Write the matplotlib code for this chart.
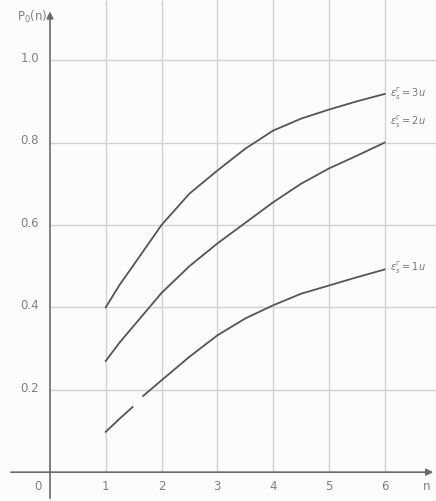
import numpy as np
import matplotlib
matplotlib.use('Agg')
import matplotlib.pyplot as plt

# data
n = [1, 1.25, 1.5, 2, 2.5, 3, 3.5, 4, 4.5, 5, 5.5, 6]
p_3u = [0.40, 0.455, 0.503, 0.60, 0.676, 0.732, 0.785, 0.829, 0.858, 0.88, 0.90, 0.918]
p_2u = [0.27, 0.315, 0.355, 0.435, 0.50, 0.555, 0.605, 0.655, 0.700, 0.737, 0.768, 0.80]
# the lowest curve has a small break near n=1.55
n_1u = [1, 1.25, 1.48, 1.57, 1.67, 2, 2.5, 3, 3.5, 4, 4.5, 5, 5.5, 6]
p_1u = [0.098, 0.13, 0.158, np.nan, 0.185, 0.223, 0.28, 0.332, 0.373, 0.405, 0.433, 0.453, 0.473, 0.492]
curve_labels = [r'$\varepsilon_s^{\Gamma}=3u$', r'$\varepsilon_s^{\Gamma}=2u$', r'$\varepsilon_s^{\Gamma}=1u$']
label_y = [0.92, 0.85, 0.497]
x_ticks = [0, 1, 2, 3, 4, 5, 6]
y_ticks = [0.2, 0.4, 0.6, 0.8, 1.0]

fig = plt.figure(figsize=(4.36, 5.01), dpi=100)
fig.patch.set_facecolor('#fbfcfb')
ax = fig.add_axes([0, 0, 1, 1])
ax.set_facecolor('#fbfcfb')
ax.axis('off')
ax.set_xlim(-0.896, 6.92)
ax.set_ylim(-0.070, 1.146)

grid_c = '#cfd2cf'
ax.hlines(y_ticks, 0, 6.92, color=grid_c, lw=1.0, zorder=1)
ax.vlines(x_ticks[1:], 0, 1.146, color=grid_c, lw=1.0, zorder=1)

# axes with arrows
ax.annotate('', xy=(6.92, 0), xytext=(-0.75, 0),
            arrowprops=dict(arrowstyle='-|>', color='#6a6a6a', lw=1.2, mutation_scale=10))
ax.annotate('', xy=(0, 1.125), xytext=(0, -0.07),
            arrowprops=dict(arrowstyle='-|>', color='#6a6a6a', lw=1.2, mutation_scale=10))

curve_c = '#555555'
ax.plot(n, p_3u, color=curve_c, lw=1.3, zorder=3, solid_joinstyle='round')
ax.plot(n, p_2u, color=curve_c, lw=1.3, zorder=3, solid_joinstyle='round')
ax.plot(n_1u, p_1u, color=curve_c, lw=1.3, zorder=3, solid_joinstyle='round')

for lab, yy in zip(curve_labels, label_y):
    ax.text(6.1, yy, lab, fontsize=7, color='#777777', family='DejaVu Serif',
            ha='left', va='center')

txt_c = '#808080'
for xt in x_ticks:
    ax.text(xt - 0.22 if xt == 0 else xt, -0.035, str(xt), fontsize=8.5, color=txt_c,
            ha='center', va='center')
ax.text(6.75, -0.035, 'n', fontsize=8.5, color=txt_c, ha='center', va='center')
for yt in y_ticks:
    ax.text(-0.2, yt + 0.004, '%.1f' % yt, fontsize=8.5, color=txt_c, ha='right', va='center')
ax.text(-0.04, 1.105, r'P$_0$(n)', fontsize=8.5, color=txt_c, ha='right', va='center')

fig.savefig('out.png', dpi=100, facecolor=fig.get_facecolor())
